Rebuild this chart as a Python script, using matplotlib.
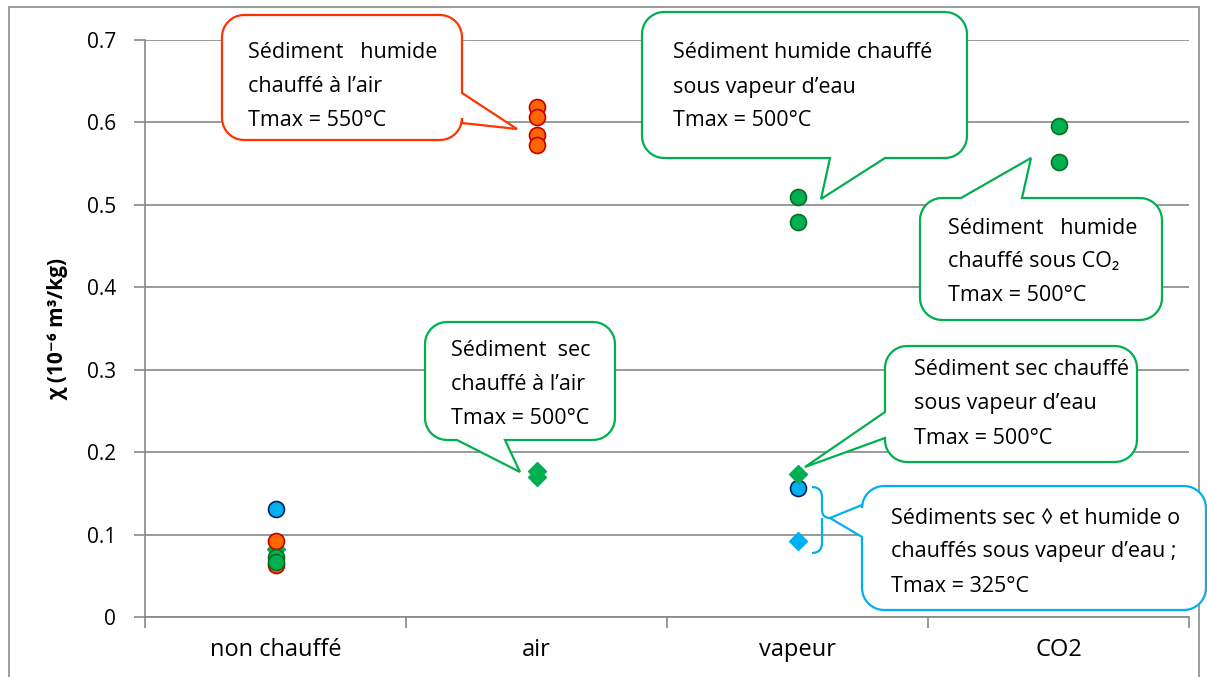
import numpy as np
import matplotlib
matplotlib.use("Agg")
import matplotlib.pyplot as plt
from matplotlib.path import Path
from matplotlib.patches import PathPatch, Rectangle

plt.rcParams['font.family'] = ['Open Sans', 'DejaVu Sans']

# ---------------- data ----------------
categories = ["non chauffé", "air", "vapeur", "CO2"]
yticks = [0, 0.1, 0.2, 0.3, 0.4, 0.5, 0.6, 0.7]
ytick_labels = ["0", "0.1", "0.2", "0.3", "0.4", "0.5", "0.6", "0.7"]

# wet sediment heated in air (Tmax 550°C) - orange circles
wet_air_cat = ["non chauffé", "non chauffé", "air", "air", "air", "air"]
wet_air_val = [0.092, 0.063, 0.619, 0.607, 0.585, 0.573]
# wet sediment heated under water vapour (Tmax 500°C) - green circles
wet_vap_cat = ["non chauffé", "vapeur", "vapeur"]
wet_vap_val = [0.073, 0.510, 0.479]
# wet sediment heated under CO2 (Tmax 500°C) - green circles
wet_co2_cat = ["non chauffé", "CO2", "CO2"]
wet_co2_val = [0.067, 0.596, 0.552]
# dry sediment heated in air (Tmax 500°C) - green diamonds
dry_air_cat = ["non chauffé", "air", "air"]
dry_air_val = [0.083, 0.177, 0.170]
# dry sediment heated under vapour (Tmax 500°C) - green diamond
dry_vap_cat = ["vapeur"]
dry_vap_val = [0.173]
# 325°C under vapour: wet (circles) and dry (diamond) - blue
wet_325_cat = ["non chauffé", "vapeur"]
wet_325_val = [0.131, 0.157]
dry_325_cat = ["vapeur"]
dry_325_val = [0.092]

W, H = 1207, 677
fig = plt.figure(figsize=(W / 100, H / 100), dpi=100)
ax = fig.add_axes([145 / W, 1 - 617 / H, (1189 - 145) / W, (617 - 40) / H])

idx = {c: i + 1 for i, c in enumerate(categories)}
def xs(cats):
    return [idx[c] for c in cats]

GREEN = "#00B050"
GREEN_E = "#0A6E1E"
ORANGE = "#FF6600"
ORANGE_E = "#C00000"
BLUE = "#00B0F0"
BLUE_E = "#002060"
RED_LINE = "#FF3300"

ms_c = 11.5
ms_d = 9.5
ax.plot(xs(dry_air_cat), dry_air_val, 'D', color=GREEN, ms=ms_d, mec=GREEN, zorder=3)
ax.plot(xs(dry_vap_cat), dry_vap_val, 'D', color=GREEN, ms=ms_d, mec=GREEN, zorder=5)
ax.plot(xs(dry_325_cat), dry_325_val, 'D', color=BLUE, ms=ms_d, mec=BLUE, zorder=3)
ax.plot(xs(wet_air_cat), wet_air_val, 'o', color=ORANGE, ms=ms_c, mec=ORANGE_E, mew=1.2, zorder=4)
ax.plot(xs(wet_vap_cat), wet_vap_val, 'o', color=GREEN, ms=ms_c, mec=GREEN_E, mew=1.2, zorder=4)
ax.plot(xs(wet_co2_cat), wet_co2_val, 'o', color=GREEN, ms=ms_c, mec=GREEN_E, mew=1.2, zorder=4)
ax.plot(xs(wet_325_cat), wet_325_val, 'o', color=BLUE, ms=ms_c, mec=BLUE_E, mew=1.2, zorder=4)

ax.set_xlim(0.5, 4.5)
ax.set_ylim(0, 0.7)
ax.set_yticks(yticks)
ax.set_yticklabels(ytick_labels, fontsize=15)
ax.set_xticks(np.arange(0.5, 4.6, 1.0))
ax.set_xticklabels([])
ax.set_xticks(np.arange(1, 5), minor=True)
ax.set_xticklabels(categories, minor=True, fontsize=17)
GRID = "#878787"
ax.tick_params(axis='y', length=8, width=1.2, color=GRID, pad=13, direction='out')
ax.tick_params(axis='x', which='major', length=8, width=1.2, color=GRID, direction='out')
ax.tick_params(axis='x', which='minor', length=0, pad=15)
ax.yaxis.grid(True, color=GRID, lw=1.2)
ax.set_axisbelow(True)
for s in ['top', 'right']:
    ax.spines[s].set_visible(False)
for s in ['left', 'bottom']:
    ax.spines[s].set_color(GRID)
    ax.spines[s].set_linewidth(1.2)
ax.set_ylabel("χ (10⁻⁶ m³/kg)", fontsize=15, fontweight='bold', labelpad=13)

# outer frame
fig.add_artist(Rectangle((9 / W, -0.01), (1199 - 9) / W, 1 - 7 / H + 0.01,
                         transform=fig.transFigure, fill=False,
                         edgecolor="#8A8A8A", lw=1.2, zorder=0))

def F(x, y):
    return (x / W, 1 - y / H)

def arc(cx, cy, rad, a0, a1, n=10):
    a = np.radians(np.linspace(a0, a1, n))
    return [(cx + rad * np.cos(t), cy + rad * np.sin(t)) for t in a]

def bubble(l, t, r, b, side, b1, b2, tip, color, rad=22):
    pts = []
    pts.append((l + rad, t))
    if side == 'top':
        pts += [(b1, t), tip, (b2, t)]
    pts += arc(r - rad, t + rad, rad, -90, 0)
    if side == 'right':
        pts += [(r, b1), tip, (r, b2)]
    pts += arc(r - rad, b - rad, rad, 0, 90)
    if side == 'bottom':
        pts += [(b2, b), tip, (b1, b)]
    pts += arc(l + rad, b - rad, rad, 90, 180)
    if side == 'left':
        pts += [(l, b2), tip, (l, b1)]
    pts += arc(l + rad, t + rad, rad, 180, 270)
    verts = [F(x, y) for x, y in pts]
    verts.append(verts[0])
    codes = [Path.MOVETO] + [Path.LINETO] * (len(verts) - 2) + [Path.CLOSEPOLY]
    p = PathPatch(Path(verts, codes), transform=fig.transFigure, facecolor='white',
                  edgecolor=color, lw=1.6, zorder=10, clip_on=False)
    fig.add_artist(p)

def lines(x, ys, texts):
    for y, s in zip(ys, texts):
        fig.text(x / W, 1 - y / H, s, fontsize=15.5, va='center', ha='left', zorder=11)

# callout 1 (orange)
bubble(222, 15, 462, 140, 'right', 93, 123, (517, 129), RED_LINE)
lines(248, [52, 87, 121], ["Sédiment   humide", "chauffé à l’air", "Tmax = 550°C"])
# callout 2
bubble(642, 12, 967, 158, 'bottom', 830, 885, (821, 199), GREEN)
lines(673, [52, 87, 121], ["Sédiment humide chauffé", "sous vapeur d’eau", "Tmax = 500°C"])
# callout 3
bubble(920, 198, 1162, 320, 'top', 961, 1022, (1031, 158), GREEN)
lines(948, [228, 262, 296], ["Sédiment   humide", "chauffé sous CO₂", "Tmax = 500°C"])
# callout 4
bubble(425, 322, 615, 440, 'bottom', 457, 505, (520, 472), GREEN)
lines(451, [350, 384, 418], ["Sédiment  sec", "chauffé à l’air", "Tmax = 500°C"])
# callout 5
bubble(885, 346, 1137, 462, 'left', 412, 438, (805, 467), GREEN)
lines(914, [369, 404, 438], ["Sédiment sec chauffé", "sous vapeur d’eau", "Tmax = 500°C"])
# callout 6 (blue)
bubble(862, 486, 1206, 610, 'left', 505, 537, (830, 518), BLUE)
lines(891, [518, 552, 586], ["Sédiments sec ◊ et humide o", "chauffés sous vapeur d’eau ;", "Tmax = 325°C"])

# brace
bv = [F(812, 487), F(822, 487), F(822, 497), F(822, 510), F(822, 518), F(830, 518),
      F(822, 518), F(822, 526), F(822, 543), F(822, 553), F(812, 553)]
bc = [Path.MOVETO, Path.CURVE3, Path.CURVE3, Path.LINETO, Path.CURVE3, Path.CURVE3,
      Path.MOVETO, Path.CURVE3, Path.LINETO, Path.CURVE3, Path.CURVE3]
fig.add_artist(PathPatch(Path(bv, bc), transform=fig.transFigure, fill=False,
                         edgecolor=BLUE, lw=1.6, zorder=10))

fig.savefig("out.png", dpi=100)
